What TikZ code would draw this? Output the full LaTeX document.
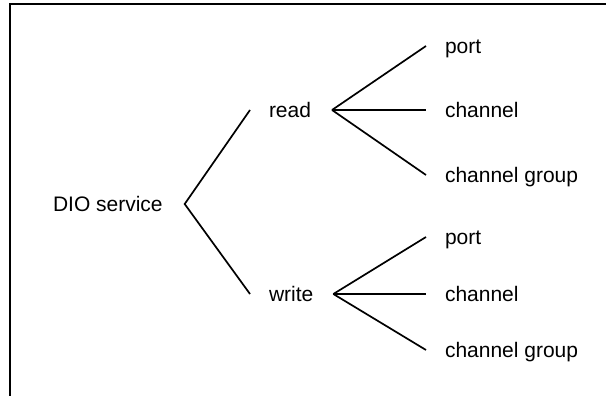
\documentclass[tikz,border=0pt]{standalone}
\usepackage{fontspec}
\setmainfont{Liberation Sans}
\begin{document}
\begin{tikzpicture}[x=1pt,y=-1pt,
  lbl/.style={anchor=west,inner sep=0pt,outer sep=0pt,text height=15pt,text depth=0pt,font=\fontsize{21pt}{25pt}\selectfont},
  branch/.style={line width=1.7pt,black},
  frame/.style={line width=2.2pt,black}]
\useasboundingbox (0,0) rectangle (606,396);
% frame (only left and top edges visible)
\coordinate (fbl) at (10,396);
\coordinate (ftl) at (10,4);
\coordinate (ftr) at (606,4);
\draw[frame] (fbl) -- (ftl) -- (ftr);
% nodes
\node[lbl] (dio) at (53,204) {DIO service};
\node[lbl] (read) at (269,110) {read};
\node[lbl] (write) at (269,294) {write};
\node[lbl] (rport) at (445,46) {port};
\node[lbl] (rch) at (445,110) {channel};
\node[lbl] (rcg) at (445,175) {channel group};
\node[lbl] (wport) at (445,237) {port};
\node[lbl] (wch) at (445,294) {channel};
\node[lbl] (wcg) at (445,350) {channel group};
% connectors
\draw[branch] ([xshift=-19]read.west) -- ([xshift=22]dio.east) -- ([xshift=-19]write.west);
\draw[branch] ([xshift=21]read.east) -- ([xshift=-19]rport.west);
\draw[branch] ([xshift=21]read.east) -- ([xshift=-19]rch.west);
\draw[branch] ([xshift=21]read.east) -- ([xshift=-19]rcg.west);
\draw[branch] ([xshift=20]write.east) -- ([xshift=-19]wport.west);
\draw[branch] ([xshift=20]write.east) -- ([xshift=-19]wch.west);
\draw[branch] ([xshift=20]write.east) -- ([xshift=-19]wcg.west);
\end{tikzpicture}
\end{document}
